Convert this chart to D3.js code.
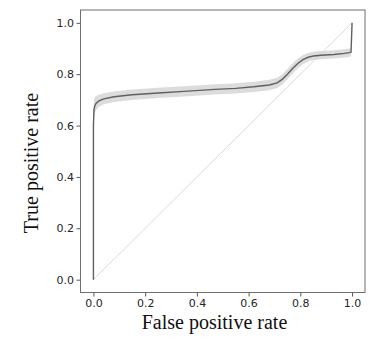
<!DOCTYPE html>
<html>
<head>
<meta charset="utf-8">
<script src="https://cdn.jsdelivr.net/npm/d3@7"></script>
<style>
  body { margin: 0; background: #fff; }
  .tick text { font-family: "DejaVu Sans", sans-serif; font-size: 11px; fill: #262626; }
  .axlabel { font-family: "Liberation Serif", "Times New Roman", serif; font-size: 20px; fill: #111; }
</style>
</head>
<body>
<div id="chart"></div>
<script>
// ROC curve (mean curve + shaded band)
var fpr   = [0, 0.000, 0.002, 0.005, 0.010, 0.020, 0.040, 0.080, 0.150, 0.250, 0.350, 0.470, 0.550, 0.620, 0.680, 0.710, 0.730, 0.750, 0.770, 0.790, 0.810, 0.830, 0.850, 0.880, 0.930, 0.970, 0.990, 0.996, 1.0];
var tpr   = [0, 0.600, 0.660, 0.676, 0.686, 0.695, 0.704, 0.712, 0.720, 0.727, 0.733, 0.741, 0.745, 0.751, 0.758, 0.766, 0.780, 0.800, 0.822, 0.842, 0.857, 0.866, 0.871, 0.874, 0.877, 0.881, 0.884, 0.886, 1.0];
var lower = [0, 0.560, 0.620, 0.645, 0.660, 0.672, 0.683, 0.692, 0.700, 0.707, 0.713, 0.721, 0.725, 0.731, 0.738, 0.746, 0.760, 0.780, 0.802, 0.823, 0.839, 0.849, 0.855, 0.858, 0.861, 0.865, 0.868, 0.870, 1.0];
var upper = [0, 0.640, 0.700, 0.710, 0.714, 0.720, 0.726, 0.733, 0.740, 0.747, 0.753, 0.761, 0.765, 0.771, 0.778, 0.786, 0.800, 0.820, 0.842, 0.861, 0.875, 0.883, 0.887, 0.890, 0.893, 0.897, 0.900, 0.902, 1.0];
var diagonal = [0, 1];
var ticks = [0, 0.2, 0.4, 0.6, 0.8, 1.0];

var W = 382, H = 347;
var box = {left: 80.5, top: 10, right: 365, bottom: 292.5};

var svg = d3.select("#chart").append("svg")
  .attr("width", W)
  .attr("height", H);

var x = d3.scaleLinear().domain([-0.05, 1.05]).range([box.left, box.right]);
var y = d3.scaleLinear().domain([-0.05, 1.05]).range([box.bottom, box.top]);

var pts = fpr.map(function(f, i){ return {x: f, y: tpr[i], lo: lower[i], hi: upper[i]}; });

// band
svg.append("path")
  .datum(pts)
  .attr("fill", "#dcdcdc")
  .attr("d", d3.area()
    .x(function(d){ return x(d.x); })
    .y0(function(d){ return y(d.lo); })
    .y1(function(d){ return y(d.hi); }));

// chance line
svg.append("path")
  .datum(diagonal)
  .attr("fill", "none")
  .attr("stroke", "#d0d0d0")
  .attr("stroke-width", 0.8)
  .attr("d", d3.line().x(function(d){ return x(d); }).y(function(d){ return y(d); }));

// mean curve
svg.append("path")
  .datum(pts)
  .attr("fill", "none")
  .attr("stroke", "#606060")
  .attr("stroke-width", 1.4)
  .attr("d", d3.line().x(function(d){ return x(d.x); }).y(function(d){ return y(d.y); }));

// axes
svg.append("g")
  .attr("transform", "translate(0," + box.bottom + ")")
  .call(d3.axisBottom(x).tickValues(ticks).tickFormat(d3.format(".1f")).tickSizeOuter(0).tickSize(4).tickPadding(3));
svg.append("g")
  .attr("transform", "translate(" + box.left + ",0)")
  .call(d3.axisLeft(y).tickValues(ticks).tickFormat(d3.format(".1f")).tickSizeOuter(0).tickSize(4).tickPadding(2.5));
svg.selectAll(".domain").remove();
svg.selectAll(".tick line").attr("stroke", "#555");

// frame
svg.append("rect")
  .attr("x", box.left).attr("y", box.top)
  .attr("width", box.right - box.left).attr("height", box.bottom - box.top)
  .attr("fill", "none").attr("stroke", "#6e6e6e").attr("stroke-width", 1);

svg.append("text")
  .attr("class", "axlabel")
  .attr("x", 214.5).attr("y", 329)
  .attr("text-anchor", "middle")
  .text("False positive rate");

svg.append("text")
  .attr("class", "axlabel")
  .attr("transform", "translate(38,163) rotate(-90)")
  .attr("text-anchor", "middle")
  .text("True positive rate");
</script>
</body>
</html>
